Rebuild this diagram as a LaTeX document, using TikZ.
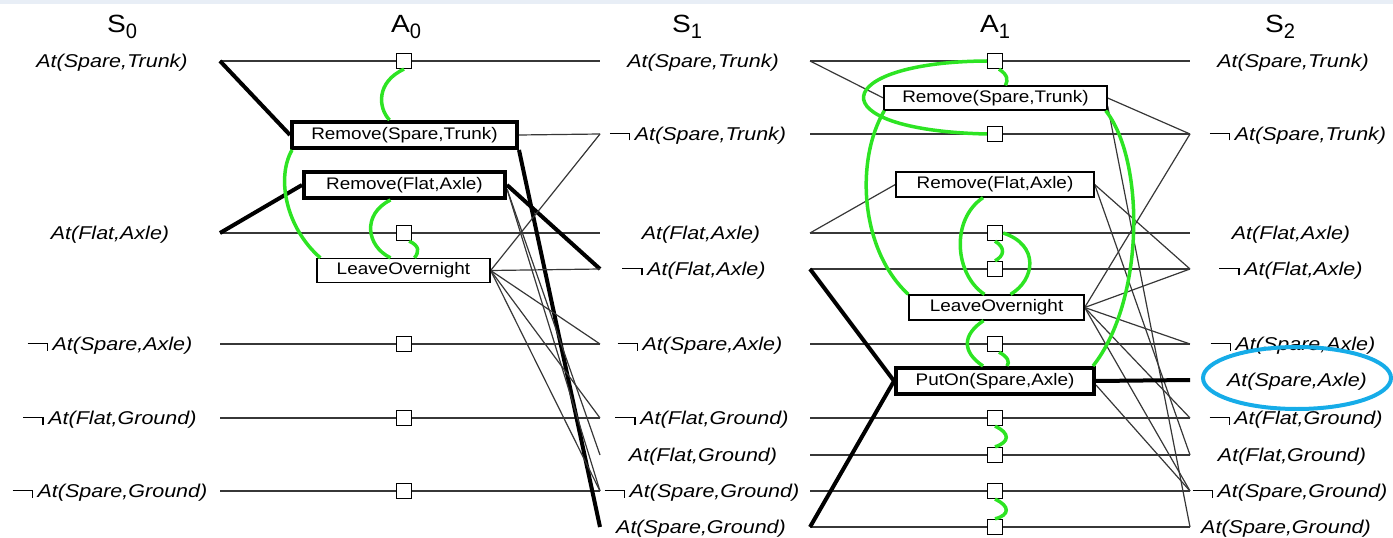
\documentclass[tikz,border=0pt]{standalone}
\usepackage{fontspec}
\usepackage{graphicx}
\setmainfont{Liberation Sans}[FakeStretch=1.13]
\newfontfamily\litfont{Liberation Sans}[FakeStretch=1.16, ItalicFeatures={FakeStretch=1.16}]
\pgfdeclarelayer{bg}
\pgfsetlayers{bg,main}
\definecolor{mutexgreen}{RGB}{45,228,35}
\definecolor{hlblue}{RGB}{22,172,232}
\definecolor{bandblue}{RGB}{232,238,246}
\definecolor{linegray}{RGB}{55,55,55}
\newcommand{\nsym}{\rule[6.3bp]{19bp}{1.4bp}\rule[0bp]{1.4bp}{7.7bp}\kern4.5bp}
\newcommand{\hsub}[1]{\raisebox{-6bp}{\fontsize{21}{21}\selectfont\scalebox{0.85}[1]{#1}}}
\begin{document}
\begin{tikzpicture}[x=1bp,y=-1bp,
  lit/.style={font=\fontsize{18.6}{20}\litfont\itshape, inner sep=0pt, anchor=base},
  hdr/.style={font=\fontsize{25}{28}\selectfont, inner sep=0pt, anchor=base},
  act/.style={draw=black, line width=1.3bp, fill=white, inner sep=0pt, font=\fontsize{16.8}{18}\selectfont},
  planact/.style={act, line width=4bp},
  noop/.style={draw=black, line width=1.3bp, fill=white, inner sep=0pt, minimum size=15bp},
  link/.style={draw=linegray, line width=1.2bp},
  planlink/.style={draw=black, line width=4bp},
  mutex/.style={draw=mutexgreen, line width=3.5bp},
]
\useasboundingbox (0,0) rectangle (1393,538);
\fill[bandblue] (0,0) rectangle (1393,4);

% headers
\node[hdr] (hS0) at (122,33) {S\hsub{0}};
\node[hdr] (hA0) at (406,33) {A\hsub{0}};
\node[hdr] (hS1) at (687,33) {S\hsub{1}};
\node[hdr] (hA1) at (995,33) {A\hsub{1}};
\node[hdr] (hS2) at (1280,33) {S\hsub{2}};

% line end points
\foreach \i/\y in {1/61,2/134,3/233,4/269,5/344,6/380,7/418,8/455,9/491,10/527} {
  \coordinate (L0-\i) at (220,\y);
  \coordinate (R1-\i) at (600,\y);
  \coordinate (L1-\i) at (810,\y);
  \coordinate (R2-\i) at (1190,\y);
}

% S0 literals
\node[lit] (s0-1) at (112,67.5) {At(Spare,Trunk)};
\node[lit] (s0-3) at (110,239.5) {At(Flat,Axle)};
\node[lit] (s0-5) at (110,350.5) {\nsym At(Spare,Axle)};
\node[lit] (s0-7) at (110,424.5) {\nsym At(Flat,Ground)};
\node[lit] (s0-9) at (110,497.5) {\nsym At(Spare,Ground)};

% S1 literals
\node[lit] (s1-1) at (703,67.5) {At(Spare,Trunk)};
\node[lit] (s1-2) at (698,140.5) {\nsym At(Spare,Trunk)};
\node[lit] (s1-3) at (701,239.5) {At(Flat,Axle)};
\node[lit] (s1-4) at (694,275.5) {\nsym At(Flat,Axle)};
\node[lit] (s1-5) at (700,350.5) {\nsym At(Spare,Axle)};
\node[lit] (s1-7) at (702,424.5) {\nsym At(Flat,Ground)};
\node[lit] (s1-8) at (703,461.5) {At(Flat,Ground)};
\node[lit] (s1-9) at (702,497.5) {\nsym At(Spare,Ground)};
\node[lit] (s1-10) at (701,533.5) {At(Spare,Ground)};

% S2 literals
\node[lit] (s2-1) at (1293,67.5) {At(Spare,Trunk)};
\node[lit] (s2-2) at (1298,140.5) {\nsym At(Spare,Trunk)};
\node[lit] (s2-3) at (1291,239.5) {At(Flat,Axle)};
\node[lit] (s2-4) at (1291,275.5) {\nsym At(Flat,Axle)};
\node[lit] (s2-5) at (1293,350.5) {\nsym At(Spare,Axle)};
\node[lit] (s2-6) at (1297,386.5) {At(Spare,Axle)};
\node[lit] (s2-7) at (1296,424.5) {\nsym At(Flat,Ground)};
\node[lit] (s2-8) at (1292,461.5) {At(Flat,Ground)};
\node[lit] (s2-9) at (1290,497.5) {\nsym At(Spare,Ground)};
\node[lit] (s2-10) at (1286,533.5) {At(Spare,Ground)};

% persistence (no-op) boxes
\foreach \i/\y in {1/61,3/233,5/344,7/418,9/491}
  \node[noop] (p0-\i) at (404,\y) {};
\foreach \i/\y in {1/61,2/134,3/233,4/269,5/344,7/418,8/455,9/491,10/527}
  \node[noop] (p1-\i) at (995,\y) {};

% actions A0
\node[planact, minimum width=225bp, minimum height=26bp] (a0rst) at (404.5,135) {Remove(Spare,Trunk)};
\node[planact, minimum width=201bp, minimum height=26bp] (a0rfa) at (404.5,185) {Remove(Flat,Axle)};
\node[act, minimum width=173bp, minimum height=24bp] (a0lo) at (403.5,270.5) {LeaveOvernight};
% actions A1
\node[act, minimum width=223bp, minimum height=24bp] (a1rst) at (995.5,98) {Remove(Spare,Trunk)};
\node[act, minimum width=198bp, minimum height=25bp] (a1rfa) at (995,184.5) {Remove(Flat,Axle)};
\node[act, minimum width=175bp, minimum height=25bp] (a1lo) at (996.5,307.5) {LeaveOvernight};
\node[planact, minimum width=198bp, minimum height=26bp] (a1put) at (995,381) {PutOn(Spare,Axle)};

\begin{pgfonlayer}{bg}
  \foreach \i in {1,3,5,7,9} \draw[link] (L0-\i) -- (p0-\i) -- (R1-\i);
  \foreach \i in {1,2,3,4,5,7,8,9,10} \draw[link] (L1-\i) -- (p1-\i) -- (R2-\i);
  % A0
  \draw[planlink] (L0-1) -- (a0rst.west);
  \draw[planlink] (L0-3) -- (a0rfa.west);
  \draw[planlink] (a0rst.south east) -- (R1-10);
  \draw[planlink] (a0rfa.east) -- (R1-4);
  \draw[link] (a0rst.east) -- (R1-2);
  \draw[link] ([yshift=-4bp]a0rfa.east) -- (R1-8);
  \draw[link] ([yshift=-4bp]a0rfa.east) -- (R1-9);
  \foreach \j in {2,4,5,7,9} \draw[link] (a0lo.east) -- (R1-\j);
  % A1
  \draw[link] (L1-1) -- (a1rst.west);
  \draw[link] (L1-3) -- (a1rfa.west);
  \draw[planlink] (L1-4) -- (a1put.west);
  \draw[planlink] (L1-10) -- (a1put.west);
  \draw[link] (a1rst.east) -- (R2-2);
  \draw[link] ([yshift=-8bp]a1rst.east) -- (R2-10);
  \draw[link] (a1rfa.east) -- (R2-4);
  \draw[link] (a1rfa.east) -- (R2-8);
  \foreach \j in {2,4,5,7,9} \draw[link] (a1lo.east) -- (R2-\j);
  \draw[planlink] (a1put.east) -- (R2-6);
  \draw[link] ([yshift=-4bp]a1put.east) -- (R2-9);
\end{pgfonlayer}

% mutex links A0
\draw[mutex] (p0-1.south) .. controls (376,82) and (378,108) .. ([xshift=-15bp]a0rst.north);
\draw[mutex] ([xshift=2bp]a0rst.south west) .. controls (276,178) and (286,228) .. ([xshift=4bp]a0lo.north west);
\draw[mutex] ([xshift=-14bp]a0rfa.south) .. controls (362,214) and (366,246) .. ([xshift=-13bp]a0lo.north);
\draw[mutex] ([xshift=-3bp]p0-3.south east) .. controls (420,246) and (419,252) .. ([xshift=11bp]a0lo.north);
% mutex links A1
\draw[mutex] (p1-1.west) .. controls (830,62) and (815,130) .. (p1-2.west);
\draw[mutex] ([xshift=4bp]p1-1.south) .. controls (1008,75) and (1008,80) .. ([xshift=10bp]a1rst.north);
\draw[mutex] ([xshift=1bp]a1rst.south west) .. controls (855,160) and (860,250) .. (a1lo.north west);
\draw[mutex] ([xshift=-12bp]a1rfa.south) .. controls (950,220) and (955,275) .. ([xshift=-12bp]a1lo.north);
\draw[mutex] (p1-3.east) .. controls (1040,245) and (1035,280) .. ([xshift=14bp]a1lo.north);
\draw[mutex] (p1-3.south) .. controls (1006,248) and (1004,256) .. (p1-4.north);
\draw[mutex] ([xshift=-13bp]a1lo.south) .. controls (962,335) and (962,352) .. ([xshift=-12bp]a1put.north);
\draw[mutex] ([xshift=4bp]p1-5.south) .. controls (1008,357) and (1010,362) .. ([xshift=12bp]a1put.north);
\draw[mutex] ([xshift=-2bp]a1rst.south east) .. controls (1145,160) and (1145,300) .. ([xshift=-3bp]a1put.north east);
\draw[mutex] (p1-7.south) .. controls (1010,433) and (1010,442) .. (p1-8.north);
\draw[mutex] (p1-9.south) .. controls (1010,506) and (1010,515) .. (p1-10.north);

% highlight
\draw[hlblue, line width=4bp] (1297,378) ellipse [x radius=94bp, y radius=31bp];
\end{tikzpicture}
\end{document}
